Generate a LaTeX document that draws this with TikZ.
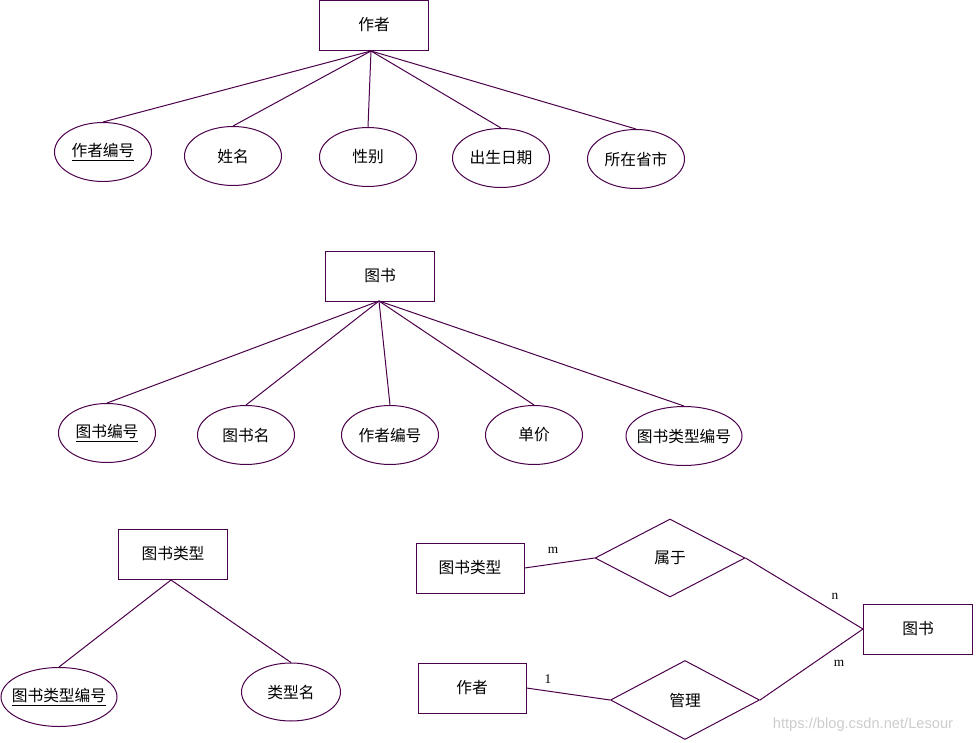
\documentclass[tikz,border=0pt]{standalone}
\usepackage{fontspec}
\setmainfont{Liberation Serif}
\newfontfamily\cjk{Noto Sans CJK SC}
\newfontfamily\wmfont{Liberation Sans}
\usetikzlibrary{shapes.geometric}
\definecolor{ln}{RGB}{75,0,75}
\begin{document}
\begin{tikzpicture}[x=0.75pt,y=-0.75pt,
  every node/.style={font=\cjk\fontsize{11.8pt}{13pt}\selectfont, text=black},
  ent/.style={draw=ln, line width=0.75pt, rectangle, minimum width=109*0.75pt, minimum height=50*0.75pt, inner sep=0pt},
  attr/.style={draw=ln, line width=0.75pt, ellipse, minimum width=97*0.75pt, minimum height=59*0.75pt, inner xsep=-16pt, inner ysep=0pt},
  rel/.style={draw=ln, line width=0.75pt, diamond, minimum width=150*0.75pt, minimum height=78*0.75pt, inner sep=0pt},
  conn/.style={draw=ln, line width=0.75pt},
  card/.style={font=\rmfamily\fontsize{10pt}{11pt}\selectfont, inner sep=0pt}]
\useasboundingbox (0,0) rectangle (976,743);
\fill[white] (0,0) rectangle (976,743);

% ---- 作者 entity
\node[ent] (zz) at (374,25) {作者};
\coordinate (zzb) at (371,51);
\node[attr] (a1) at (103,152) {\underline{作者编号}};
\node[attr] (a2) at (233,156) {姓名};
\node[attr] (a3) at (368,157) {性别};
\node[attr] (a4) at (501,158) {出生日期};
\node[attr] (a5) at (636,159) {所在省市};
\foreach \n in {a1,a2,a3,a4,a5} \draw[conn] (zzb) -- (\n.north);

% ---- 图书 entity
\node[ent] (ts) at (380,276) {图书};
\coordinate (tsb) at (379,301);
\node[attr] (b1) at (107,433) {\underline{图书编号}};
\node[attr] (b2) at (246,435) {图书名};
\node[attr] (b3) at (390,435) {作者编号};
\node[attr] (b4) at (534,435) {单价};
\node[attr, minimum width=116*0.75pt] (b5) at (684,436) {图书类型编号};
\foreach \n in {b1,b2,b3,b4,b5} \draw[conn] (tsb) -- (\n.north);

% ---- 图书类型 entity
\node[ent] (lx) at (173,554) {图书类型};
\coordinate (lxb) at (171,580);
\node[attr, minimum width=116*0.75pt] (c1) at (59,697) {\underline{图书类型编号}};
\node[attr, minimum width=99*0.75pt, minimum height=58*0.75pt] (c2) at (291,692) {类型名};
\draw[conn] (lxb) -- (c1.north);
\draw[conn] (lxb) -- (c2.north);

% ---- relationships
\node[ent, minimum width=108*0.75pt] (r1) at (470,568) {图书类型};
\node[rel] (d1) at (670,558) {属于};
\node[ent] (r2) at (918,629) {图书};
\node[ent, minimum width=108*0.75pt] (r3) at (472,688) {作者};
\node[rel, minimum width=149*0.75pt, minimum height=79*0.75pt] (d2) at (685,700) {管理};

\draw[conn] (r1.east) -- (d1.west);
\draw[conn] (d1.east) -- (r2.west);
\draw[conn] (r3.east) -- (d2.west);
\draw[conn] (d2.east) -- (r2.west);

\node[card] (m1) at (553,550) {m};
\node[card] (n1) at (835,596) {n};
\node[card] (o1) at (548,679) {1};
\node[card] (m2) at (839,663) {m};

\node[font=\wmfont\fontsize{11pt}{12pt}\selectfont, text={rgb,255:red,205;green,205;blue,205}, inner sep=0pt] (wm) at (863,725) {https://blog.csdn.net/Lesour};
\end{tikzpicture}
\end{document}
